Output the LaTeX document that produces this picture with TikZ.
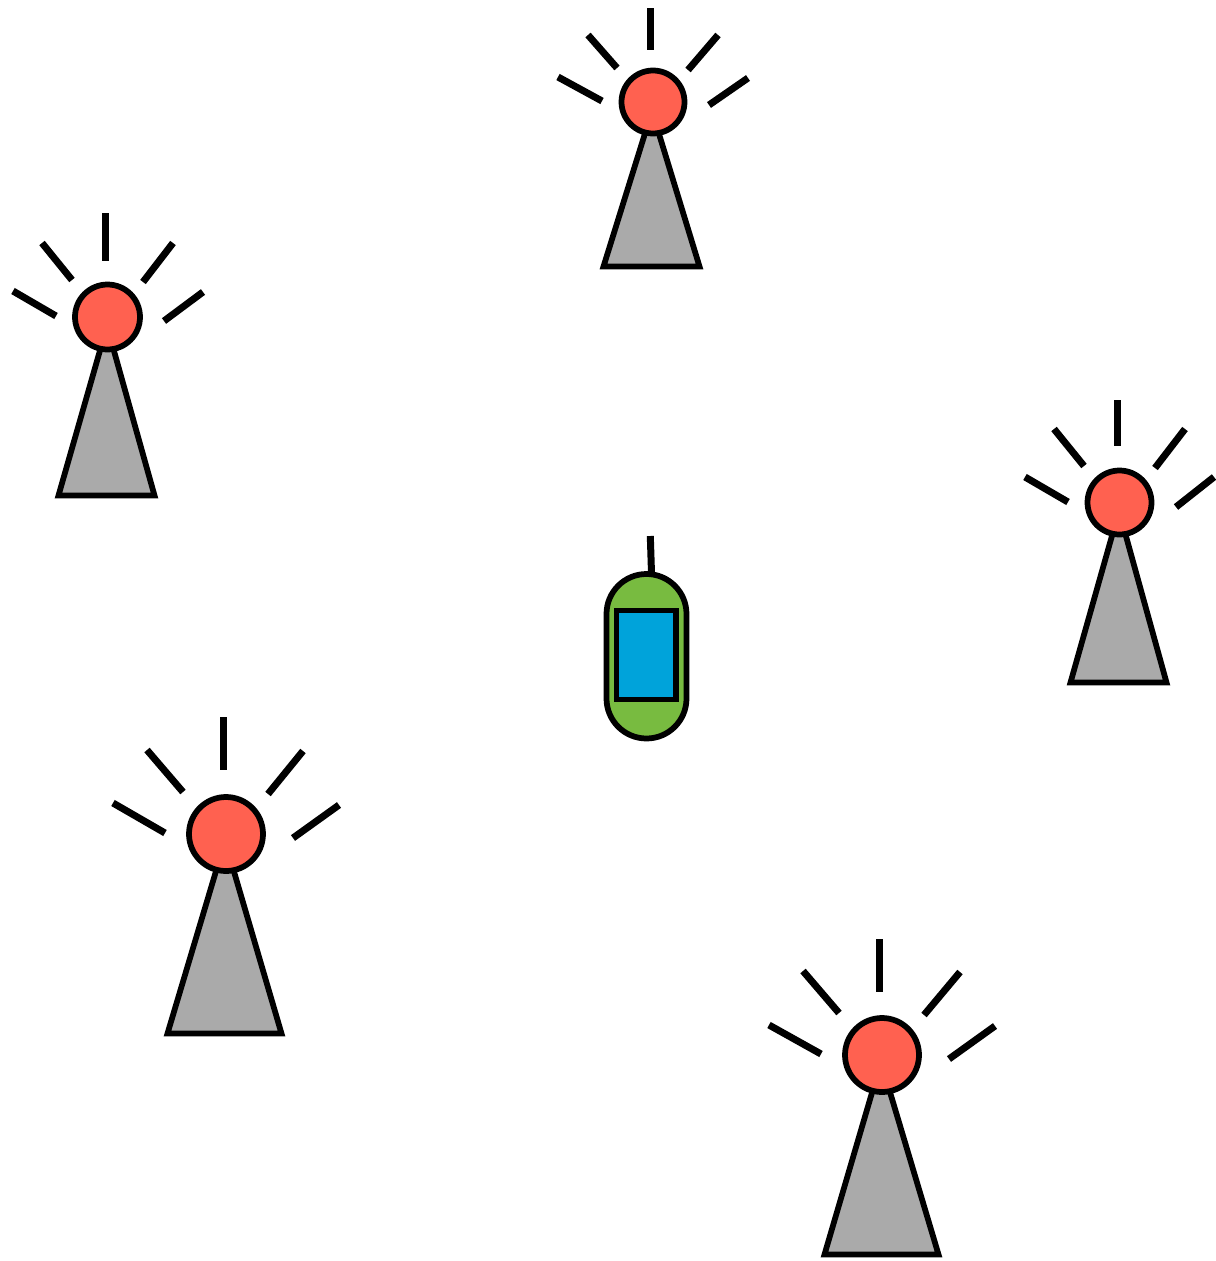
\documentclass[tikz,border=0pt]{standalone}
\usepackage{tikz}

\definecolor{towerred}{HTML}{FF6150}
\definecolor{towergray}{HTML}{AAAAAA}
\definecolor{phonegreen}{HTML}{78BB40}
\definecolor{screenblue}{HTML}{00A3DA}

\tikzset{
  ray/.style={black, line width=0.14cm},
  mast/.style={fill=towergray, draw=black, line width=0.115cm, line join=miter},
  lamp/.style={fill=towerred, draw=black, line width=0.115cm},
}

\begin{document}
\begin{tikzpicture}[x=0.02cm,y=-0.02cm]
  \useasboundingbox (0,0) rectangle (1215,1261);
  \foreach \px/\h/\lx/\rx/\by/\cx/\cy/\r in {
      652/111/603.5/699.5/266.5/653/102/31.5,
      107/326/58.5/154.5/495.5/107.5/317/32.5,
      1119/511/1070.5/1166.5/682.5/1119.5/502.5/32,
      225/841/167.5/281.5/1033.5/226/834/37,
      881/1062/824.5/938.5/1254.5/882/1055/37}
    {\draw[mast] (\px,\h) -- (\lx,\by) -- (\rx,\by) -- cycle;
     \draw[lamp] (\cx,\cy) circle (\r);}
  \foreach \ax/\ay/\bx/\by in {
      650.5/8/650.5/50, 588/35/617/68, 718/35/688/70, 558/77/602/101, 748/78/709/105,
      105.5/213/105.5/261, 42/243/72/280, 173/243/143/282, 13/291/56/316, 203/292/164/321,
      1117.5/400/1117.5/446, 1054/429/1084/466, 1185/429/1155/468, 1025/477/1068/502, 1214/477/1176/507,
      223/717/223/770, 147/750/183/792, 303/751/268/794, 113/803/165/833, 339/805/293/838,
      879.5/939/879.5/992, 803/971/839/1013, 960/972/924/1015, 769/1025/821/1054, 995/1026/949/1059}
    {\draw[ray] (\ax,\ay) -- (\bx,\by);}
  \draw[ray] (650.3,536) -- (651.5,573);
  \draw[fill=phonegreen, draw=black, line width=0.115cm, rounded corners=0.8cm]
    (606.5,574) rectangle (686.5,738.5);
  \draw[fill=screenblue, draw=black, line width=0.115cm] (616.5,610.5) rectangle (676,699.5);
\end{tikzpicture}
\end{document}
